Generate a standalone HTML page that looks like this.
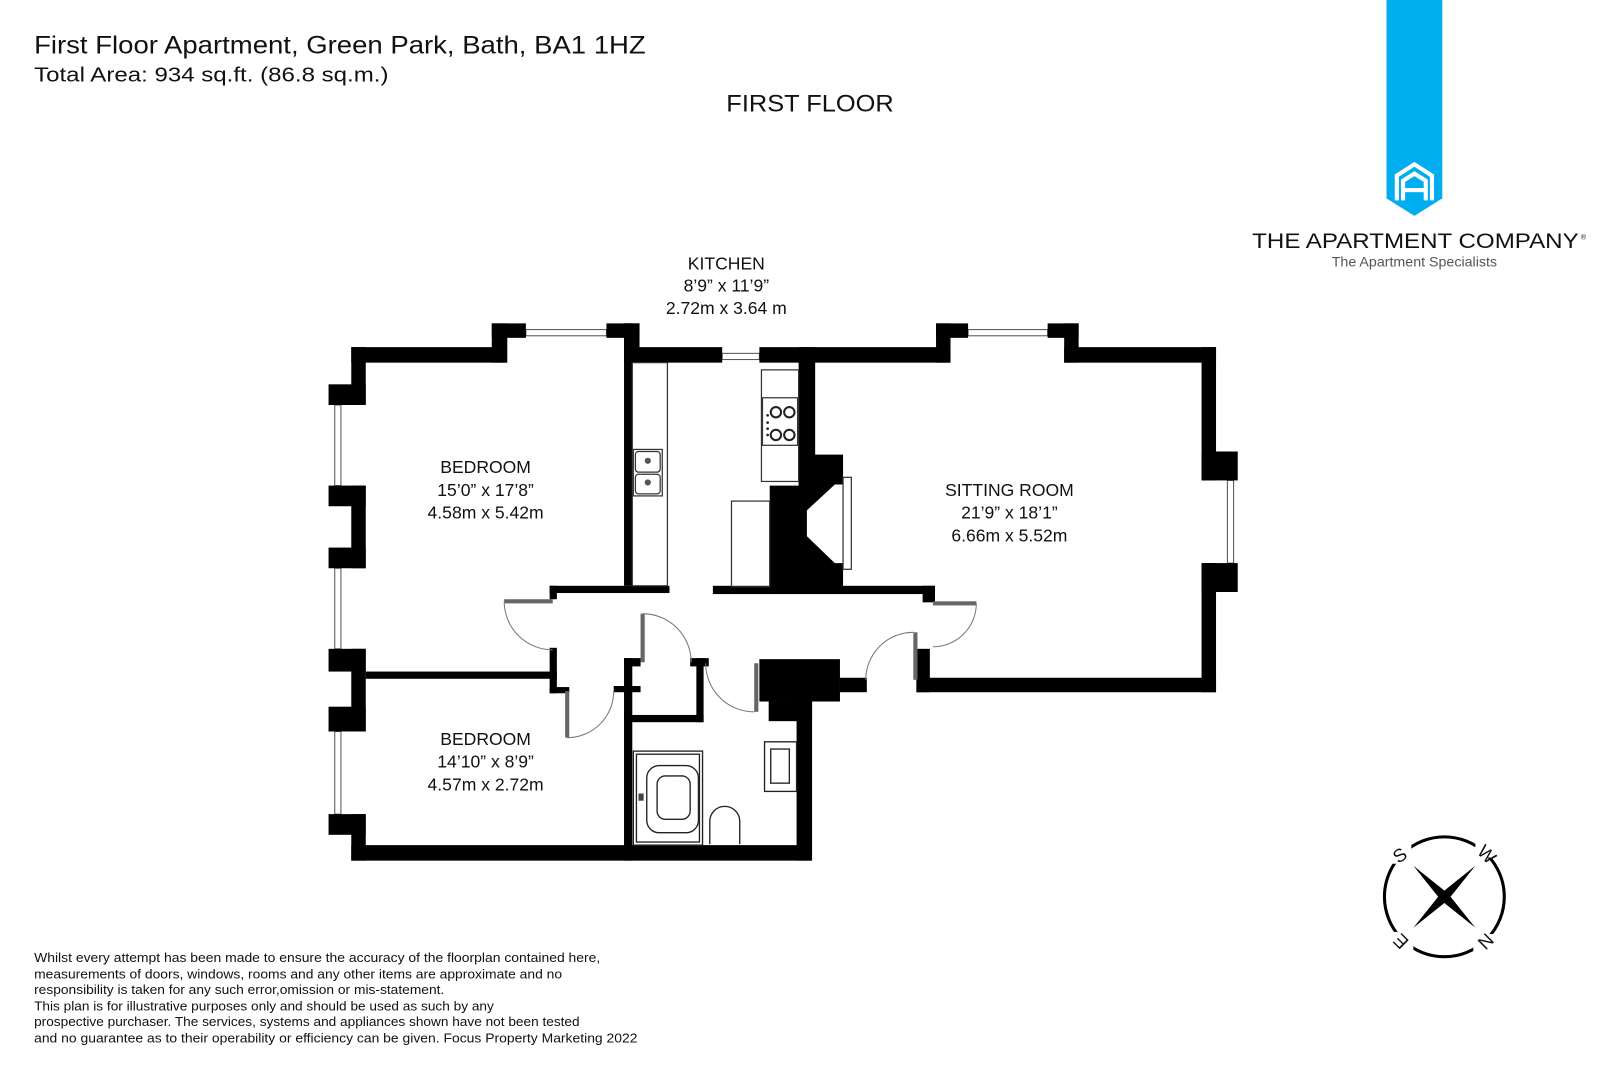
<!DOCTYPE html>
<html><head><meta charset="utf-8"><style>
html,body{margin:0;padding:0;background:#fff;}
svg{display:block;}
text{font-family:"Liberation Sans",sans-serif;fill:#111;}
</style></head><body>
<svg width="1620" height="1080" viewBox="0 0 1568 1045.33" xmlns="http://www.w3.org/2000/svg">
<rect width="1568" height="1046" fill="#fff"/>
<!-- header -->
<text x="33" y="52" font-size="24" textLength="592" lengthAdjust="spacingAndGlyphs">First Floor Apartment, Green Park, Bath, BA1 1HZ</text>
<text x="33" y="79" font-size="20" textLength="343" lengthAdjust="spacingAndGlyphs">Total Area: 934 sq.ft. (86.8 sq.m.)</text>
<text x="784" y="108" font-size="23" text-anchor="middle" textLength="162" lengthAdjust="spacingAndGlyphs">FIRST FLOOR</text>

<!-- logo -->
<path d="M1342 0 H1396 V192 L1369 209 L1342 192 Z" fill="#00aeef"/>
<g fill="none" stroke="#fff" stroke-width="4">
<path d="M1352 194 V170 L1369 159 L1386 170 V194"/>
<path d="M1358 194 V175 L1369 168 L1380 175 V194"/>
</g>
<rect x="1358" y="182" width="22" height="4" fill="#fff"/>
<text x="1370" y="240" font-size="21" text-anchor="middle" textLength="316" lengthAdjust="spacingAndGlyphs">THE APARTMENT COMPANY</text>
<text x="1530" y="232" font-size="7">®</text>
<text x="1369" y="258" font-size="13" text-anchor="middle" fill="#555" style="fill:#555" textLength="160" lengthAdjust="spacingAndGlyphs">The Apartment Specialists</text>

<!-- room labels -->
<g font-size="17" text-anchor="middle">
<text x="703" y="261">KITCHEN</text>
<text x="703" y="282">8’9” x 11’9”</text>
<text x="703" y="304">2.72m x 3.64 m</text>
<text x="470" y="458">BEDROOM</text>
<text x="470" y="480">15’0” x 17’8”</text>
<text x="470" y="502">4.58m x 5.42m</text>
<text x="977" y="480">SITTING ROOM</text>
<text x="977" y="502">21’9” x 18’1”</text>
<text x="977" y="524">6.66m x 5.52m</text>
<text x="470" y="721">BEDROOM</text>
<text x="470" y="743">14’10” x 8’9”</text>
<text x="470" y="765">4.57m x 2.72m</text>
</g>

<!-- windows -->
<g fill="#fff" stroke="#555" stroke-width="1">
<rect x="509" y="319" width="78" height="6"/>
<rect x="699" y="342" width="36" height="6"/>
<rect x="937" y="319" width="77" height="6"/>
<rect x="324" y="392" width="6" height="78"/>
<rect x="324" y="550" width="6" height="78"/>
<rect x="324" y="708" width="6" height="80"/>
<rect x="1188" y="465" width="6" height="80"/>
</g>

<!-- walls -->
<g fill="#000">
<rect x="340" y="336" width="150" height="15"/>
<rect x="476" y="313" width="33" height="14"/>
<rect x="476" y="313" width="15" height="38"/>
<rect x="587" y="313" width="32" height="14"/>
<rect x="604" y="313" width="8" height="254"/>
<rect x="604" y="313" width="15" height="38"/>
<rect x="604" y="336" width="95" height="15"/>
<rect x="735" y="336" width="185" height="15"/>
<!-- left side -->
<rect x="340" y="336" width="14" height="56"/>
<rect x="340" y="470" width="14" height="80"/>
<rect x="340" y="628" width="14" height="80"/>
<rect x="340" y="788" width="14" height="45"/>
<rect x="318" y="372" width="36" height="20"/>
<rect x="318" y="470" width="36" height="20"/>
<rect x="318" y="530" width="36" height="20"/>
<rect x="318" y="628" width="36" height="22"/>
<rect x="318" y="684" width="36" height="24"/>
<rect x="318" y="788" width="36" height="20"/>
<rect x="340" y="818" width="445" height="15"/>
<rect x="354" y="650" width="185" height="7"/>
<rect x="532" y="567" width="116" height="7"/>
<rect x="532" y="567" width="7" height="13"/>
<rect x="532" y="627" width="7" height="44"/>
<rect x="532" y="665" width="19" height="6"/>
<rect x="594" y="664" width="26" height="6"/>
<rect x="604" y="637" width="8" height="196"/>
<rect x="604" y="637" width="16" height="8"/>
<rect x="668" y="637" width="18" height="8"/>
<rect x="674" y="637" width="7" height="62"/>
<rect x="604" y="692" width="77" height="7"/>
<rect x="735" y="638" width="78" height="41"/>
<rect x="813" y="656" width="26" height="14"/>
<rect x="744" y="679" width="42" height="19"/>
<rect x="771" y="679" width="15" height="154"/>
<rect x="690" y="567" width="215" height="8"/>
<rect x="893" y="567" width="12" height="16"/>
<rect x="773" y="336" width="16" height="134"/>
<path d="M773 440 H816 V469 L808 469 L781 494 L781 519 L808 545 L816 545 V568 H745 V470 H773 Z"/>
<!-- sitting room -->
<rect x="906" y="313" width="31" height="14"/>
<rect x="906" y="313" width="14" height="38"/>
<rect x="1014" y="313" width="30" height="14"/>
<rect x="1030" y="313" width="14" height="38"/>
<rect x="1030" y="336" width="147" height="15"/>
<rect x="1163" y="336" width="14" height="129"/>
<rect x="1163" y="545" width="14" height="125"/>
<rect x="1163" y="437" width="35" height="28"/>
<rect x="1163" y="545" width="35" height="28"/>
<rect x="887" y="656" width="290" height="14"/>
<rect x="887" y="628" width="13" height="42"/>
</g>

<!-- door leaves -->
<g fill="#666">
<rect x="488" y="580" width="47" height="4"/>
<rect x="547" y="669" width="4" height="45"/>
<rect x="620" y="594" width="4" height="47"/>
<rect x="730" y="642" width="4" height="47"/>
<rect x="884" y="612" width="4" height="46"/>
<rect x="903" y="582" width="42" height="4"/>
</g>
<g fill="none" stroke="#777" stroke-width="1">
<path d="M488 582 A47 47 0 0 0 535 629"/>
<path d="M549 714 A45 45 0 0 0 594 669"/>
<path d="M622 594 A47 47 0 0 1 669 641"/>
<path d="M683 642 A47 47 0 0 0 730 689"/>
<path d="M884 612 A46 46 0 0 0 838 658"/>
<path d="M945 584 A42 42 0 0 1 903 626"/>
</g>

<!-- kitchen fixtures -->
<g fill="none" stroke="#333" stroke-width="1.2">
<rect x="612" y="351" width="34" height="216"/>
<rect x="613" y="435" width="28" height="45"/>
<rect x="615" y="437" width="24" height="20" rx="3"/>
<rect x="615" y="459" width="24" height="19" rx="3"/>
<rect x="737" y="358" width="36" height="108"/>
<rect x="738" y="385" width="34" height="46"/>
<rect x="708" y="485" width="37" height="83"/>
<rect x="816" y="462" width="8" height="89"/>
</g>
<g fill="#555"><circle cx="627" cy="446" r="3"/><circle cx="627" cy="467" r="3"/></g>
<g fill="none" stroke="#222" stroke-width="2">
<circle cx="751" cy="399" r="5"/><circle cx="764" cy="399" r="5"/>
<circle cx="751" cy="421" r="5"/><circle cx="764" cy="421" r="5"/>
</g>
<g fill="#222"><circle cx="743" cy="402" r="1.3"/><circle cx="743" cy="409" r="1.3"/><circle cx="743" cy="415" r="1.3"/><circle cx="743" cy="421" r="1.3"/></g>

<!-- bathroom fixtures -->
<g fill="none" stroke="#222" stroke-width="1.3">
<rect x="613" y="727" width="67" height="91"/>
<rect x="616" y="730" width="61" height="85"/>
<rect x="626" y="741" width="50" height="65" rx="12"/>
<rect x="636" y="751" width="32" height="42" rx="8"/>
<path d="M687 817 V795 A14 14 0 0 1 716 795 V817"/>
<rect x="740" y="718" width="31" height="48"/>
<rect x="746" y="725" width="18" height="33"/>
</g>
<rect x="618" y="768" width="5" height="7" fill="#444"/>

<!-- compass -->
<g transform="translate(1398,868)">
<circle r="58" fill="none" stroke="#000" stroke-width="3"/>
<path d="M-30 -30 L-6 0 L-30 30 L0 6 L30 30 L6 0 L30 -30 L0 -6 Z" fill="#000"/>
<g font-size="18" text-anchor="middle">
<rect x="-52" y="-54" width="20" height="22" fill="#fff"/>
<text transform="translate(-43,-40) rotate(-35)" x="0" y="6">S</text>
<rect x="30" y="-58" width="22" height="20" fill="#fff"/>
<text transform="translate(41,-41) rotate(45)" x="0" y="6">W</text>
<rect x="28" y="36" width="22" height="20" fill="#fff"/>
<text transform="translate(40,43) rotate(135)" x="0" y="6">N</text>
<rect x="-52" y="34" width="22" height="22" fill="#fff"/>
<text transform="translate(-42,43) rotate(-135)" x="0" y="6">E</text>
</g>
</g>

<!-- disclaimer -->
<g font-size="12.5">
<text x="33" y="931" textLength="548" lengthAdjust="spacingAndGlyphs">Whilst every attempt has been made to ensure the accuracy of the floorplan contained here,</text>
<text x="33" y="947" textLength="511" lengthAdjust="spacingAndGlyphs">measurements of doors, windows, rooms and any other items are approximate and no</text>
<text x="33" y="962" textLength="397" lengthAdjust="spacingAndGlyphs">responsibility is taken for any such error,omission or mis-statement.</text>
<text x="33" y="978" textLength="445" lengthAdjust="spacingAndGlyphs">This plan is for illustrative purposes only and should be used as such by any</text>
<text x="33" y="993" textLength="528" lengthAdjust="spacingAndGlyphs">prospective purchaser. The services, systems and appliances shown have not been tested</text>
<text x="33" y="1009" textLength="584" lengthAdjust="spacingAndGlyphs">and no guarantee as to their operability or efficiency can be given. Focus Property Marketing 2022</text>
</g>
</svg>
</body></html>
